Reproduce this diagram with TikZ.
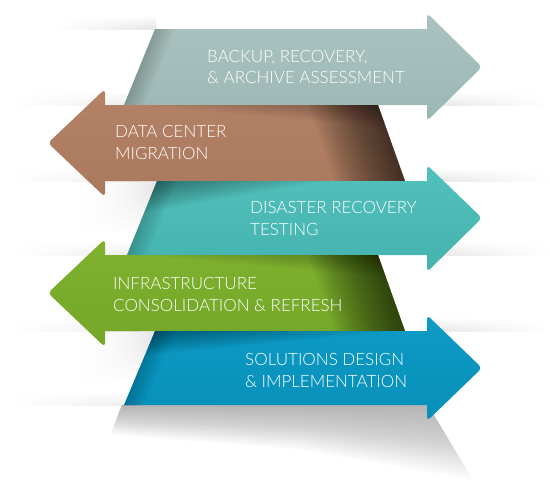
\documentclass[tikz,border=0pt]{standalone}
\usepackage{fontspec}
\setmainfont{Lato}[UprightFont={* Light}]
\definecolor{cAt}{HTML}{AAC3C0}
\definecolor{cAb}{HTML}{9CB7B4}
\definecolor{cBt}{HTML}{B48266}
\definecolor{cBb}{HTML}{AA7A5E}
\definecolor{cCt}{HTML}{52C1BC}
\definecolor{cCb}{HTML}{44B2AE}
\definecolor{cDt}{HTML}{80B22F}
\definecolor{cDb}{HTML}{74A628}
\definecolor{cEt}{HTML}{0D9BC5}
\definecolor{cEb}{HTML}{078FB9}
\begin{document}
\begin{tikzpicture}[x=1pt,y=-1pt,
  lbl/.style={anchor=base west, inner sep=0pt, text=white, font=\fontsize{17}{20}\selectfont},
  shd/.style={fill=black, opacity=#1},
  softl/.style={left color=white, right color=black, opacity=#1},
  softr/.style={left color=black, right color=white, opacity=#1},
  rc/.style={rounded corners=4pt}]
\useasboundingbox (0,0) rectangle (550,499);
% ---- background fold bands (gray just above each fold line)
\foreach \k in {1,...,6}{
  \shade[softl=0.014] (55,{29-2*\k}) rectangle (156,29);
  \foreach \yy in {105,181,255,331}{
    \shade[softr=0.014] (428,{\yy-2*\k}) rectangle (550,\yy);
  }
  \foreach \yy in {105,181,255,331,405}{
    \shade[softl=0.011] (10,{\yy-2*\k}) rectangle (140,\yy);
  }
}
% soft shadows cast under the left-pointing heads
\foreach \k in {1,...,10}{
  \shade[softl=0.013] ({158-9*\k},181) rectangle (158,{181+5*\k});
  \shade[softl=0.013] ({156-9*\k},331) rectangle (156,{331+5*\k});
}
% bottom shadow under last arrow
\foreach \k in {1,...,30}{
  \fill[shd=0.011] (122,405) -- (428,405) -- ({428+1.5*\k},{405+2.5*\k}) -- ({300},{405+1.5*\k}) -- ({121-0.35*\k},{405+1*\k}) -- cycle;
}
% ---- arrow 1 (right)
\shade[top color=cAt, bottom color=cAb] (155,29) -- (427,29) [rc] -- (427,13) -- (482,67) -- (427,121) [sharp corners] -- (427,105) -- (124,105) -- cycle;
\foreach \k in {1,...,8}{
  \fill[shd=0.025] (155,29) -- ({155+2.5*\k},29) -- ({124+2.5*\k},105) -- (124,105) -- cycle;
}
% ---- arrow 2 (left)
\shade[top color=cBt, bottom color=cBb] (378,105) -- (105,105) [rc] -- (105,89) -- (48,143) -- (105,197) [sharp corners] -- (105,181) -- (405,181) -- cycle;
\foreach \k in {1,...,20}{
  \fill[shd=0.04] ({378-3.5*\k},105) -- (378,105) -- (405,181) -- ({405-3.5*\k},181) -- cycle;
}
\foreach \k in {1,...,14}{
  \fill[shd=0.02] ({378-17*\k},105) -- (378,105) -- ({378+0.355*1.6*\k},{105+1.6*\k}) -- cycle;
}
% ---- arrow 3 (right)
\shade[top color=cCt, bottom color=cCb] (157,181) -- (427,181) [rc] -- (427,165) -- (482,218) -- (427,272) [sharp corners] -- (427,255) -- (127,255) -- cycle;
\foreach \k in {1,...,8}{
  \fill[shd=0.022] (157,181) -- ({157+2.5*\k},181) -- ({127+2.5*\k},255) -- (127,255) -- cycle;
}
\foreach \k in {1,...,12}{
  \fill[shd=0.035] (157,181) -- ({157+14*\k},181) -- ({157-0.405*2.6*\k},{181+2.6*\k}) -- cycle;
}
% ---- arrow 4 (left)
\shade[top color=cDt, bottom color=cDb] (378,255) -- (105,255) [rc] -- (105,239) -- (48,293) -- (105,347) [sharp corners] -- (105,331) -- (405,331) -- cycle;
\foreach \k in {1,...,20}{
  \fill[shd=0.04] ({378-3.5*\k},255) -- (378,255) -- (405,331) -- ({405-3.5*\k},331) -- cycle;
}
\foreach \k in {1,...,14}{
  \fill[shd=0.02] ({378-17*\k},255) -- (378,255) -- ({378+0.355*1.6*\k},{255+1.6*\k}) -- cycle;
}
% ---- arrow 5 (right)
\shade[top color=cEt, bottom color=cEb] (155,331) -- (427,331) [rc] -- (427,315) -- (482,368) -- (427,421) [sharp corners] -- (427,405) -- (124,405) -- cycle;
\foreach \k in {1,...,8}{
  \fill[shd=0.022] (155,331) -- ({155+2.5*\k},331) -- ({124+2.5*\k},405) -- (124,405) -- cycle;
}
\foreach \k in {1,...,12}{
  \fill[shd=0.035] (155,331) -- ({155+20*\k},331) -- ({155-0.42*2*\k},{331+2*\k}) -- cycle;
}
% ---- labels
\node[lbl] (t1a) at (207,62) {BACKUP, RECOVERY,};
\node[lbl] (t1b) at (207,83) {\& ARCHIVE ASSESSMENT};
\node[lbl] (t2a) at (115,137) {DATA CENTER};
\node[lbl] (t2b) at (115,159) {MIGRATION};
\node[lbl] (t3a) at (250,213) {DISASTER RECOVERY};
\node[lbl] (t3b) at (250,235) {TESTING};
\node[lbl] (t4a) at (113,289) {INFRASTRUCTURE};
\node[lbl] (t4b) at (113,311) {CONSOLIDATION \& REFRESH};
\node[lbl] (t5a) at (245,365) {SOLUTIONS DESIGN};
\node[lbl] (t5b) at (245,387) {\& IMPLEMENTATION};
\end{tikzpicture}
\end{document}
